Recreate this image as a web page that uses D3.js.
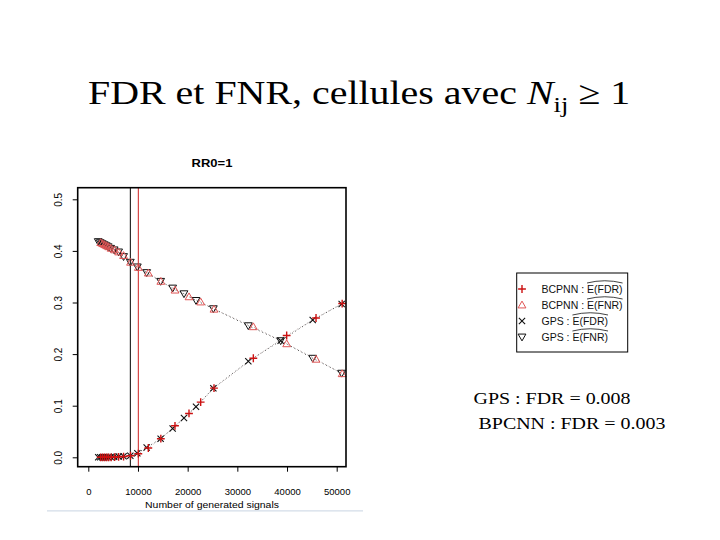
<!DOCTYPE html>
<html><head><meta charset="utf-8">
<script src="https://cdn.jsdelivr.net/npm/d3@7"></script>
<style>body{margin:0;background:#fff}svg{display:block}</style>
</head><body>
<svg id="c" width="720" height="540"></svg>
<script>
// ---- data ----
const gpsX   = [2000, 2400, 2800, 3200, 3600, 4000, 4500, 5200, 6100, 7100, 8460, 9870, 11750, 14560, 16980, 19260, 21680, 25170, 32210, 38720, 45170, 51000];
const gpsFDR = [0, 0, 0, 0, 0, 0, 0.0005, 0.001, 0.0015, 0.002, 0.003, 0.008, 0.019, 0.036, 0.056, 0.076, 0.098, 0.134, 0.186, 0.226, 0.266, 0.297];
const gpsFNR = [0.418, 0.416, 0.414, 0.412, 0.410, 0.408, 0.405, 0.402, 0.398, 0.389, 0.378, 0.369, 0.358, 0.341, 0.328, 0.317, 0.304, 0.288, 0.255, 0.226, 0.192, 0.163];
const bcX    = [2500, 2900, 3300, 3700, 4100, 4600, 5300, 6100, 7100, 8500, 10070, 12080, 14600, 17450, 20270, 22620, 25300, 33220, 39930, 45840, 51100];
const bcFDR  = [0, 0, 0, 0, 0, 0, 0.0005, 0.001, 0.0015, 0.003, 0.007, 0.018, 0.036, 0.061, 0.085, 0.107, 0.134, 0.192, 0.236, 0.270, 0.298];
const bcFNR  = [0.416, 0.414, 0.412, 0.410, 0.408, 0.405, 0.402, 0.398, 0.391, 0.378, 0.368, 0.357, 0.341, 0.324, 0.311, 0.301, 0.287, 0.253, 0.220, 0.190, 0.162];
const gpsThreshold = 8460, bcThreshold = 10070;
const xTicks = [0, 10000, 20000, 30000, 40000, 50000];
const yTicks = [0.0, 0.1, 0.2, 0.3, 0.4, 0.5];
const legendItems = [
  {pre: "BCPNN : ", hat: "E(FDR)", sym: "plus", col: "#cc1111"},
  {pre: "BCPNN : ", hat: "E(FNR)", sym: "tri", col: "#e05555"},
  {pre: "GPS : ", hat: "E(FDR)", sym: "cross", col: "#111"},
  {pre: "GPS : ", hat: "E(FNR)", sym: "itri", col: "#111"}
];
const statLines = ["GPS : FDR = 0.008", " BPCNN : FDR = 0.003"];

// ---- drawing ----
const svg = d3.select("#c");
const box = {l: 77.7, r: 346, t: 187.7, b: 466.7};
const x = d3.scaleLinear().domain([0, 50000]).range([88.3, 336.7]);
const y = d3.scaleLinear().domain([0, 0.5]).range([457.3, 199.3]);
const SANS = "Arial,'Liberation Sans',sans-serif";
const SERIF = "'Liberation Serif','Times New Roman',serif";
const STRETCH = 1.21;

// title (slide text is horizontally stretched)
const tg = svg.append("g").attr("transform", `translate(88,103.5) scale(${STRETCH},1)`);
const t = tg.append("text").attr("x", 0).attr("y", 0)
  .attr("font-family", SERIF).attr("font-size", 33).attr("fill", "#000");
t.append("tspan").text("FDR et FNR, cellules avec ");
t.append("tspan").attr("font-style", "italic").text("N");
t.append("tspan").attr("font-size", 22).attr("dy", 8).text("ij");
t.append("tspan").attr("dy", -8).text(" \u2265 1");

// plot title
svg.append("g").attr("transform", "translate(212,166.5) scale(1.13,1)")
  .append("text").attr("text-anchor", "middle")
  .attr("font-family", SANS).attr("font-weight", "bold").attr("font-size", 11.5).text("RR0=1");

function sym(g, type, col, cx, cy) {
  const s = 3.9;
  if (type === "plus") {
    g.append("path").attr("d", `M${cx-s},${cy}H${cx+s}M${cx},${cy-s}V${cy+s}`).attr("stroke", col).attr("stroke-width", 1.4).attr("fill", "none");
  } else if (type === "cross") {
    const c = s*0.8;
    g.append("path").attr("d", `M${cx-c},${cy-c}L${cx+c},${cy+c}M${cx-c},${cy+c}L${cx+c},${cy-c}`).attr("stroke", col).attr("stroke-width", 1.1).attr("fill", "none");
  } else if (type === "tri") {
    g.append("path").attr("d", `M${cx},${cy-s}L${cx+s},${cy+s*0.75}L${cx-s},${cy+s*0.75}Z`).attr("stroke", col).attr("stroke-width", 1).attr("fill", "none");
  } else {
    g.append("path").attr("d", `M${cx},${cy+s}L${cx+s},${cy-s*0.75}L${cx-s},${cy-s*0.75}Z`).attr("stroke", col).attr("stroke-width", 1).attr("fill", "none");
  }
}
const line = d3.line().x(d => x(d[0])).y(d => y(d[1]));
const series = [
  {xs: bcX, ys: bcFDR, sym: "plus", col: "#cc1111", lc: "#b0a0a0"},
  {xs: bcX, ys: bcFNR, sym: "tri", col: "#e05555", lc: "#b0a0a0"},
  {xs: gpsX, ys: gpsFDR, sym: "cross", col: "#111", lc: "#444"},
  {xs: gpsX, ys: gpsFNR, sym: "itri", col: "#111", lc: "#444"}
];
series.forEach(s => {
  svg.append("path").datum(s.xs.map((v, i) => [v, s.ys[i]])).attr("d", line)
    .attr("fill", "none").attr("stroke", s.lc).attr("stroke-width", 1).attr("stroke-dasharray", "1,3");
});
// vertical threshold lines
svg.append("line").attr("x1", x(gpsThreshold)).attr("x2", x(gpsThreshold)).attr("y1", box.t).attr("y2", box.b).attr("stroke", "#000").attr("stroke-width", 1);
svg.append("line").attr("x1", x(bcThreshold)).attr("x2", x(bcThreshold)).attr("y1", box.t).attr("y2", box.b).attr("stroke", "#cc2222").attr("stroke-width", 1);
// points
const pg = svg.append("g");
[series[3], series[2], series[1], series[0]].forEach(s => {
  s.xs.forEach((v, i) => sym(pg, s.sym, s.col, x(v), y(s.ys[i])));
});

// box
svg.append("rect").attr("x", box.l).attr("y", box.t).attr("width", box.r - box.l).attr("height", box.b - box.t)
  .attr("fill", "none").attr("stroke", "#000").attr("stroke-width", 1.6);

// axes
const xa = svg.append("g").attr("transform", `translate(0,${box.b})`)
  .call(d3.axisBottom(x).tickValues(xTicks).tickSize(5).tickFormat(d3.format("d")));
xa.select(".domain").remove();
xa.selectAll("text").attr("font-family", SANS).attr("font-size", 9.5).attr("dy", 0).attr("y", 28.8);
const ya = svg.append("g").attr("transform", `translate(${box.l},0)`)
  .call(d3.axisLeft(y).tickValues(yTicks).tickSize(5).tickFormat(d3.format(".1f")));
ya.select(".domain").remove();
ya.selectAll("text").attr("font-family", SANS).attr("font-size", 10)
  .attr("text-anchor", "middle").attr("dy", 0).attr("x", 0).attr("y", 0)
  .attr("transform", "translate(-15.5,0) rotate(-90)");
svg.append("g").attr("transform", "translate(212,507.5) scale(1.2,1)")
  .append("text").attr("text-anchor", "middle")
  .attr("font-family", SANS).attr("font-size", 8.7).text("Number of generated signals");
svg.append("line").attr("x1", 47).attr("x2", 363).attr("y1", 510.8).attr("y2", 510.8).attr("stroke", "#d3dde8").attr("stroke-width", 1.2);

// legend
const lg = svg.append("g");
lg.append("rect").attr("x", 516.7).attr("y", 273).attr("width", 111).attr("height", 79)
  .attr("fill", "#fff").attr("stroke", "#000").attr("stroke-width", 1);
legendItems.forEach((it, i) => {
  const cy = 289 + i * 16;
  sym(lg, it.sym, it.col, 522, cy);
  const tx = lg.append("text").attr("x", 541.5).attr("y", cy + 4)
    .attr("font-family", SANS).attr("font-size", 10.5).attr("fill", "#111");
  tx.append("tspan").text(it.pre);
  const h = tx.append("tspan").text(it.hat);
  const full = tx.node().getComputedTextLength();
  const hw = h.node().getComputedTextLength();
  const x1 = 541.5 + full - hw, x2 = 541.5 + full;
  lg.append("path").attr("d", `M${x1},${cy - 6}Q${(x1 + x2) / 2},${cy - 10.5} ${x2},${cy - 6}`)
    .attr("fill", "none").attr("stroke", "#111").attr("stroke-width", 0.8);
});

// stats text
statLines.forEach((s, i) => {
  svg.append("g").attr("transform", `translate(473.5,${403.5 + i * 25}) scale(${STRETCH},1)`)
    .append("text").style("white-space", "pre")
    .attr("font-family", SERIF).attr("font-size", 16.5).text(s);
});
</script>
</body></html>
